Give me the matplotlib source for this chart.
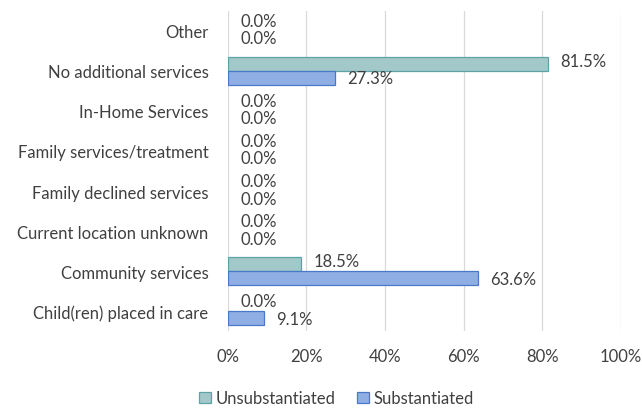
import matplotlib
matplotlib.use("Agg")
import matplotlib.pyplot as plt
import numpy as np
from matplotlib.patches import Patch

categories = ["Child(ren) placed in care", "Community services", "Current location unknown",
              "Family declined services", "Family services/treatment", "In-Home Services",
              "No additional services", "Other"]
unsubstantiated = [0.0, 18.5, 0.0, 0.0, 0.0, 0.0, 81.5, 0.0]
substantiated = [9.1, 63.6, 0.0, 0.0, 0.0, 0.0, 27.3, 0.0]
xticks = [0, 20, 40, 60, 80, 100]
xticklabels = ["0%", "20%", "40%", "60%", "80%", "100%"]

plt.rcParams['font.family'] = ['Lato', 'DejaVu Sans']
fs = 12
fig = plt.figure(figsize=(6.42, 4.10), dpi=100)
ax = fig.add_axes([0.355, 0.190, 0.612, 0.781])

y = np.arange(len(categories))
h = 0.34
b1 = ax.barh(y + h/2, unsubstantiated, height=h, color="#A2C8CA", edgecolor="#5FA3A8",
             linewidth=[0.9 if v > 0 else 0 for v in unsubstantiated],
             label="Unsubstantiated", zorder=3)
b2 = ax.barh(y - h/2, substantiated, height=h, color="#8FAEE3", edgecolor="#4A78C8",
             linewidth=[0.9 if v > 0 else 0 for v in substantiated],
             label="Substantiated", zorder=3)
for bars, vals, dy in ((b1, unsubstantiated, 2.5), (b2, substantiated, -0.5)):
    for bar, v in zip(bars, vals):
        ax.annotate(f"{v:.1f}%", (v, bar.get_y() + bar.get_height()/2),
                    xytext=(9, dy), textcoords="offset points", va="center", ha="left",
                    fontsize=fs, color="#404040")

ax.set_xlim(0, 100)
ax.set_ylim(-0.5, len(categories) - 0.5)
ax.set_yticks(y)
ax.set_yticklabels(categories, fontsize=fs, color="#404040")
ax.set_xticks(xticks)
ax.set_xticklabels(xticklabels, fontsize=fs, color="#404040")
ax.tick_params(axis="both", length=0)
ax.tick_params(axis="x", pad=12)
ax.tick_params(axis="y", pad=14)
ax.grid(axis="x", color="#D9D9D9", linewidth=0.9, zorder=0)
for s in ax.spines.values():
    s.set_visible(False)

h1 = Patch(facecolor="#A2C8CA", edgecolor="#5FA3A8", linewidth=0.9, label="Unsubstantiated")
h2 = Patch(facecolor="#8FAEE3", edgecolor="#4A78C8", linewidth=0.9, label="Substantiated")
fig.legend(handles=[h1, h2], loc="lower center", bbox_to_anchor=(0.524, -0.03), ncol=2,
           frameon=False, fontsize=fs, handlelength=0.7, handleheight=0.7,
           handletextpad=0.3, columnspacing=1.3, labelcolor="#404040")
fig.savefig("out.png", dpi=100)
